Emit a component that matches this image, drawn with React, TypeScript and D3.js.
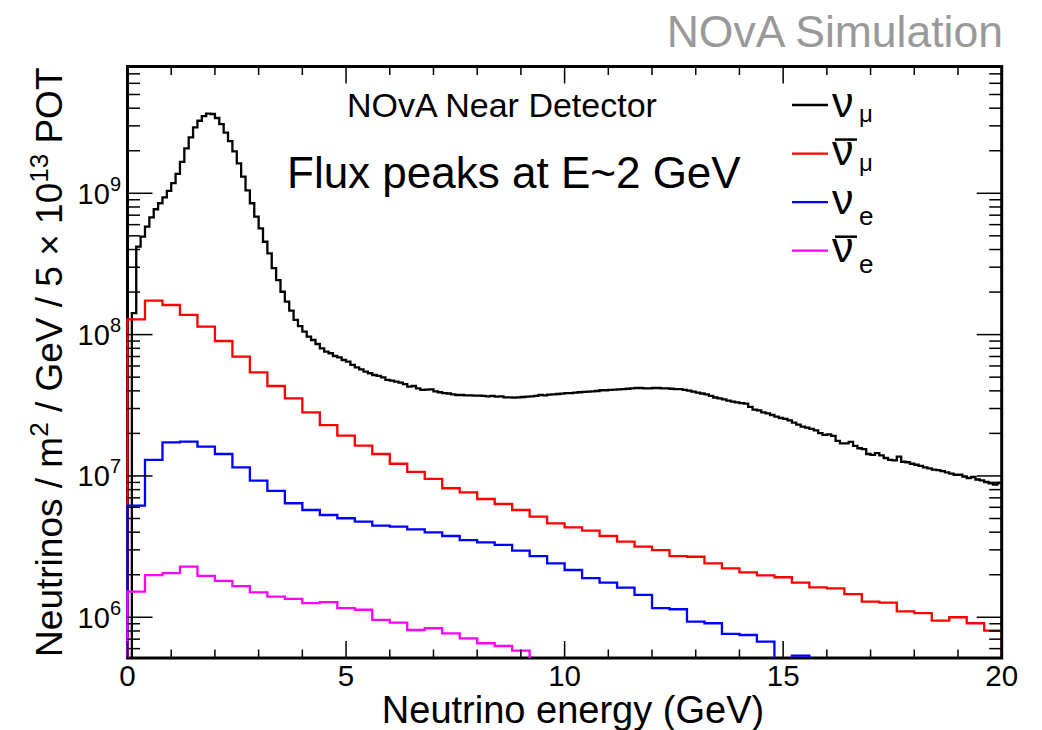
import React from 'react';
import * as d3 from 'd3';

// ---------- data ----------
const energyRange = [0, 20];
const fineBinWidth = 0.1; // GeV, nu_mu histogram
const coarseBinWidth = 0.4; // GeV, other histograms

const numuFlux = [
  4.0e5, 1.42e8, 4.19e8, 4.93e8, 5.80e8, 6.76e8, 7.71e8, 8.50e8, 9.37e8, 1.04e9,
  1.18e9, 1.37e9, 1.67e9, 2.08e9, 2.49e9, 2.93e9, 3.26e9, 3.52e9, 3.66e9, 3.64e9,
  3.41e9, 3.09e9, 2.69e9, 2.34e9, 1.98e9, 1.63e9, 1.31e9, 1.05e9, 8.50e8, 6.83e8,
  5.65e8, 4.54e8, 3.76e8, 2.95e8, 2.43e8, 2.01e8, 1.71e8, 1.48e8, 1.27e8, 1.15e8,
  1.05e8, 9.67e7, 9.16e7, 8.58e7, 8.00e7, 7.57e7, 7.38e7, 7.06e7, 6.91e7, 6.61e7,
  6.43e7, 6.10e7, 5.87e7, 5.68e7, 5.47e7, 5.33e7, 5.18e7, 5.10e7, 4.99e7, 4.78e7,
  4.72e7, 4.65e7, 4.57e7, 4.47e7, 4.28e7, 4.33e7, 4.17e7, 4.06e7, 4.08e7, 4.10e7,
  3.96e7, 3.91e7, 3.86e7, 3.83e7, 3.78e7, 3.74e7, 3.74e7, 3.72e7, 3.72e7, 3.70e7,
  3.70e7, 3.68e7, 3.66e7, 3.68e7, 3.64e7, 3.66e7, 3.60e7, 3.60e7, 3.58e7, 3.60e7,
  3.62e7, 3.64e7, 3.66e7, 3.68e7, 3.74e7, 3.72e7, 3.76e7, 3.78e7, 3.80e7, 3.82e7,
  3.85e7, 3.85e7, 3.88e7, 3.91e7, 3.93e7, 3.95e7, 3.97e7, 3.99e7, 4.04e7, 4.04e7,
  4.06e7, 4.08e7, 4.10e7, 4.12e7, 4.14e7, 4.17e7, 4.19e7, 4.19e7, 4.17e7, 4.17e7,
  4.19e7, 4.19e7, 4.17e7, 4.17e7, 4.14e7, 4.12e7, 4.12e7, 4.06e7, 4.01e7, 3.95e7,
  3.89e7, 3.83e7, 3.78e7, 3.68e7, 3.59e7, 3.54e7, 3.48e7, 3.41e7, 3.36e7, 3.31e7,
  3.27e7, 3.25e7, 3.08e7, 2.95e7, 2.91e7, 2.82e7, 2.77e7, 2.70e7, 2.63e7, 2.57e7,
  2.53e7, 2.47e7, 2.38e7, 2.31e7, 2.23e7, 2.20e7, 2.15e7, 2.10e7, 2.01e7, 1.95e7,
  1.97e7, 1.92e7, 1.77e7, 1.70e7, 1.70e7, 1.74e7, 1.63e7, 1.57e7, 1.55e7, 1.43e7,
  1.41e7, 1.45e7, 1.40e7, 1.34e7, 1.30e7, 1.29e7, 1.37e7, 1.26e7, 1.25e7, 1.22e7,
  1.20e7, 1.18e7, 1.15e7, 1.13e7, 1.11e7, 1.10e7, 1.08e7, 1.06e7, 1.04e7, 1.02e7,
  1.02e7, 9.91e6, 9.67e6, 9.83e6, 9.44e6, 9.29e6, 9.06e6, 8.87e6, 8.70e6, 8.91e6,
];

const numubarFlux = [
  1.28e8, 1.74e8, 1.62e8, 1.38e8, 1.14e8, 9.01e7, 6.98e7, 5.41e7, 4.33e7, 3.54e7,
  2.82e7, 2.29e7, 1.93e7, 1.64e7, 1.43e7, 1.22e7, 1.07e7, 9.52e6, 8.18e6, 7.66e6,
  6.87e6, 6.33e6, 5.74e6, 5.15e6, 4.62e6, 4.33e6, 4.10e6, 3.76e6, 3.43e6, 3.16e6,
  2.99e6, 2.71e6, 2.68e6, 2.41e6, 2.22e6, 2.08e6, 1.98e6, 1.92e6, 1.76e6, 1.63e6,
  1.60e6, 1.46e6, 1.29e6, 1.27e6, 1.10e6, 1.07e6, 9.46e5, 1.00e6, 9.07e5, 8.04e5,
];

const nueFlux = [
  6.16e6, 1.30e7, 1.73e7, 1.75e7, 1.61e7, 1.43e7, 1.15e7, 9.26e6, 7.83e6, 6.41e6,
  5.74e6, 5.29e6, 5.02e6, 4.75e6, 4.45e6, 4.38e6, 4.19e6, 3.99e6, 3.76e6, 3.52e6,
  3.39e6, 3.25e6, 2.96e6, 2.71e6, 2.41e6, 2.16e6, 1.89e6, 1.76e6, 1.62e6, 1.44e6,
  1.16e6, 1.14e6, 9.31e5, 9.07e5, 7.62e5, 7.49e5, 6.72e5, 4.8e5, 5.35e5,
];

const nuebarFlux = [
  1.52e6, 1.99e6, 2.05e6, 2.28e6, 1.96e6, 1.81e6, 1.66e6, 1.50e6, 1.40e6, 1.35e6,
  1.26e6, 1.28e6, 1.16e6, 1.13e6, 9.57e5, 9.16e5, 8.13e5, 8.36e5, 7.70e5, 7.10e5,
  6.55e5, 6.26e5, 5.80e5,
];

const xMajorTicks = [0, 5, 10, 15, 20];
const xMinorTicks = d3.range(0, 21, 1);
const yDecades = [6, 7, 8, 9];
const yDomain = [5.15e5, 7.89e9];

const seriesList = [
  { name: 'numu', values: numuFlux, binWidth: fineBinWidth, color: '#000000', sub: 'μ', bar: false },
  { name: 'numubar', values: numubarFlux, binWidth: coarseBinWidth, color: '#ff0000', sub: 'μ', bar: true },
  { name: 'nue', values: nueFlux, binWidth: coarseBinWidth, color: '#0000ff', sub: 'e', bar: false },
  { name: 'nuebar', values: nuebarFlux, binWidth: coarseBinWidth, color: '#ff00ff', sub: 'e', bar: true },
];

// ---------- layout ----------
const W = 1042;
const H = 730;
const plot = { left: 127.5, right: 1001.7, top: 66.5, bottom: 658 };
const FONT = "'Liberation Sans', Arial, Helvetica, sans-serif";

export default function App() {
  const x = d3.scaleLinear().domain(energyRange).range([plot.left, plot.right]);
  const y = d3.scaleLog().domain(yDomain).range([plot.bottom, plot.top]);
  const below = plot.bottom + 8;
  const yv = (v: number) => (v < yDomain[0] ? below : y(v));

  const histPath = (values: number[], bw: number) => {
    const p = d3.path();
    p.moveTo(x(0), below);
    values.forEach((v, i) => {
      p.lineTo(x(i * bw), yv(v));
      p.lineTo(x((i + 1) * bw), yv(v));
    });
    p.lineTo(x(values.length * bw), below);
    return p.toString();
  };

  const yMinor: number[] = [];
  for (let e = 5; e <= 9; e++) {
    for (let m = 2; m <= 9; m++) {
      const v = m * Math.pow(10, e);
      if (v > yDomain[0] && v < yDomain[1]) yMinor.push(v);
    }
  }

  const legendY = d3.scaleLinear().domain([0, 3]).range([105, 250.7]);

  return (
    <svg width={W} height={H} style={{ position: 'absolute', left: 0, top: 0, background: '#fff' }}
      fontFamily={FONT}>
      <rect x={0} y={0} width={W} height={H} fill="#fff" />
      <defs>
        <clipPath id="plotclip">
          <rect x={plot.left - 2} y={plot.top - 2} width={plot.right - 1.3 - (plot.left - 2)} height={plot.bottom - plot.top + 2} />
        </clipPath>
      </defs>

      <text x={1003} y={47} textAnchor="end" fontSize={44.5} fill="#999999">NOvA Simulation</text>

      <rect x={plot.left} y={plot.top} width={plot.right - plot.left} height={plot.bottom - plot.top}
        fill="none" stroke="#000" strokeWidth={3} />

      <g clipPath="url(#plotclip)">
        {seriesList.map((s) => (
          <path key={s.name} d={histPath(s.values, s.binWidth)} fill="none" stroke={s.color}
            strokeWidth={2.3} strokeLinejoin="miter" strokeLinecap="butt" />
        ))}
      </g>

      <g stroke="#000" strokeWidth={1.5}>
        {xMinorTicks.map((t) => {
          const major = xMajorTicks.includes(t);
          const len = major ? 17 : 8.5;
          return (
            <g key={'xt' + t}>
              <line x1={x(t)} x2={x(t)} y1={plot.bottom} y2={plot.bottom - len} />
              <line x1={x(t)} x2={x(t)} y1={plot.top} y2={plot.top + len} />
            </g>
          );
        })}
        {yDecades.map((e) => (
          <g key={'yM' + e}>
            <line x1={plot.left} x2={plot.left + 25} y1={y(Math.pow(10, e))} y2={y(Math.pow(10, e))} />
            <line x1={plot.right} x2={plot.right - 25} y1={y(Math.pow(10, e))} y2={y(Math.pow(10, e))} />
          </g>
        ))}
        {yMinor.map((v) => (
          <g key={'ym' + v}>
            <line x1={plot.left} x2={plot.left + 12.5} y1={y(v)} y2={y(v)} />
            <line x1={plot.right} x2={plot.right - 12.5} y1={y(v)} y2={y(v)} />
          </g>
        ))}
      </g>

      {xMajorTicks.map((t) => (
        <text key={'xl' + t} x={x(t)} y={686} textAnchor="middle" fontSize={29.5} fill="#000">{t}</text>
      ))}

      {yDecades.map((e) => (
        <text key={'yl' + e} x={121} y={y(Math.pow(10, e)) + 10.5} textAnchor="end" fontSize={29} fill="#000">
          <tspan>10</tspan>
          <tspan fontSize={20} dy={-13}>{e}</tspan>
        </text>
      ))}

      <text x={573} y={723} textAnchor="middle" fontSize={38} fill="#000">Neutrino energy (GeV)</text>
      <text transform={`translate(62,${plot.top + 1}) rotate(-90)`} textAnchor="end" fontSize={37} fill="#000">
        <tspan>Neutrinos / m</tspan>
        <tspan fontSize={26} dy={-14}>2</tspan>
        <tspan dy={14}> / GeV / 5 × 10</tspan>
        <tspan fontSize={26} dy={-14}>13</tspan>
        <tspan dy={14}> POT</tspan>
      </text>

      <text x={347} y={117} fontSize={34} fill="#000">NOvA Near Detector</text>
      <text x={287} y={188} fontSize={44} fill="#000">Flux peaks at E~2 GeV</text>

      {seriesList.map((s, i) => {
        const ly = legendY(i);
        return (
          <g key={'lg' + s.name}>
            <line x1={792} x2={828} y1={ly} y2={ly} stroke={s.color} strokeWidth={2.3} />
            <text x={832} y={ly + 11.5} fontSize={43} fill="#000">ν</text>
            {s.bar && <line x1={835} x2={857} y1={ly - 14} y2={ly - 14} stroke="#000" strokeWidth={2.5} />}
            <text x={859} y={ly + (s.sub === 'e' ? 22.5 : 17)} fontSize={s.sub === 'e' ? 26 : 24} fill="#000">{s.sub}</text>
          </g>
        );
      })}
    </svg>
  );
}
